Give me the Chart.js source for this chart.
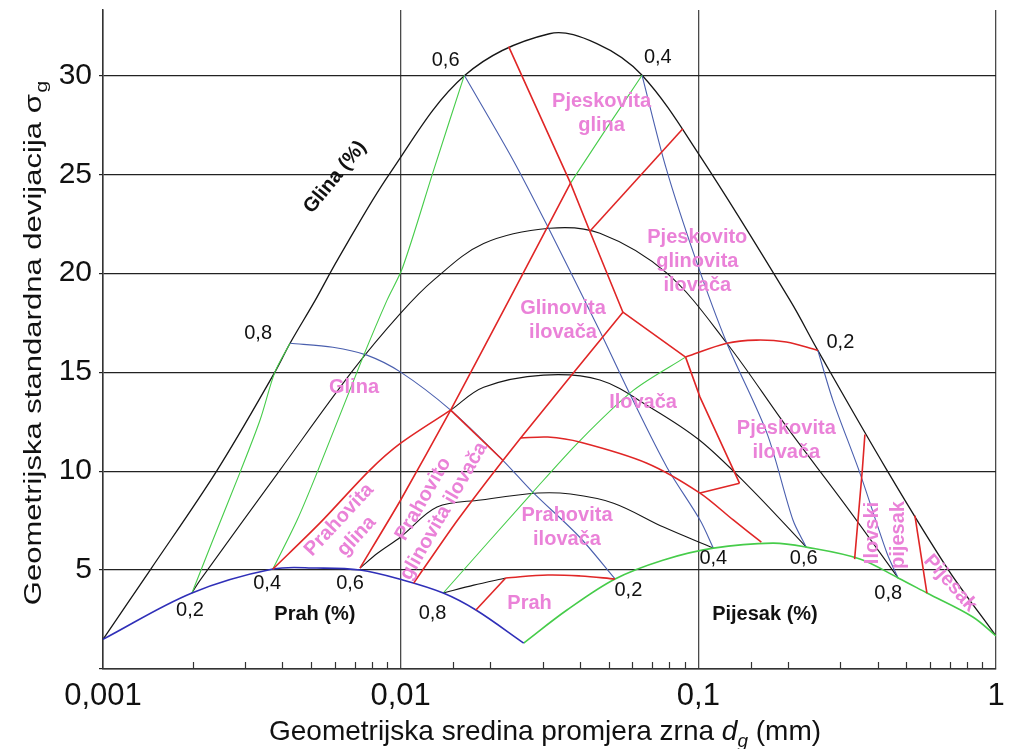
<!DOCTYPE html>
<html>
<head>
<meta charset="utf-8">
<script src="https://cdn.jsdelivr.net/npm/chart.js@4.4.1/dist/chart.umd.min.js"></script>
<style>
  html, body { margin: 0; padding: 0; background: #fff; }
  #wrap { width: 1017px; height: 749px; }
</style>
</head>
<body>
<div id="wrap"><canvas id="tekstura" width="1017" height="749"></canvas></div>
<script>
  "use strict";

  var FONT = "'Liberation Sans', Arial, sans-serif";

  // rubovi trokuta (d_g u mm, sigma_g)
  var outerEdge = [[0.001,1.5],[0.00144,5.0],[0.00242,10.05],[0.00378,15.0],[0.00425,16.46],[0.00515,18.6],[0.00615,20.7],[0.0092,25.05],[0.01644,30],[0.0316,32.1],[0.0456,31.6],[0.0647,30],[0.1015,25.9],[0.2038,18.6],[0.252,16.1],[0.43,10.05],[0.689,5.05],[1,1.67]];
  var siltClayEdge = [[0.001,1.5],[0.00199,3.84],[0.00372,5.05],[0.00523,5.1],[0.0073,5.0],[0.01016,4.5],[0.0139,3.84],[0.0179,2.98],[0.0259,1.31]];
  var siltSandEdge = [[0.0259,1.31],[0.0362,2.98],[0.0525,4.55],[0.076,5.5],[0.1123,6.11],[0.178,6.36],[0.2304,6.16],[0.349,5.56],[0.469,4.6],[0.586,3.84],[0.836,2.63],[1,1.67]];

  // izolinije praha (crno)
  var silt20 = [[0.00199,3.84],[0.00212,4.49],[0.00393,10.05],[0.00692,15.1],[0.01,17.98],[0.0129,19.65],[0.019,21.5],[0.0317,22.27],[0.0467,22.02],[0.0784,20.0],[0.1247,16.46],[0.1984,12.22],[0.3155,8.18],[0.469,4.6]];
  var silt40Low = [[0.00372,5.05],[0.00535,7.37],[0.00788,10.05],[0.01,11.41],[0.01472,13.08]];
  var silt40 = [[0.01472,13.08],[0.019,14.24],[0.0302,14.85],[0.0467,14.6],[0.0688,13.23],[0.1008,11.57],[0.1484,9.19],[0.2304,6.16]];
  var silt60 = [[0.0073,5.1],[0.00838,5.86],[0.01,6.67],[0.01325,8.18],[0.01857,8.54],[0.0289,8.89],[0.0372,8.84],[0.0519,8.38],[0.0764,7.17],[0.1123,6.11]];
  var silt80 = [[0.0139,3.84],[0.0176,4.24],[0.02253,4.6]];
  var silt80High = [[0.02253,4.6],[0.0312,4.75],[0.0402,4.7],[0.0525,4.55]];

  // izolinije pijeska (plavo)
  var sand20 = [[0.00425,16.46],[0.00592,16.26],[0.0077,15.86],[0.01,15.0],[0.01472,13.08],[0.022,10.56],[0.02777,8.94],[0.0399,6.67],[0.0525,4.55]];
  var sand40 = [[0.01636,30],[0.0239,25.7],[0.0314,22.27],[0.0467,17.07],[0.0598,13.69],[0.0784,10.2],[0.1013,7.53],[0.1123,6.11]];
  var sand60 = [[0.0647,30],[0.0778,25.35],[0.0982,20.66],[0.1247,16.46],[0.17,11.92],[0.2079,7.53],[0.2304,6.16]];
  var sand80 = [[0.252,16.1],[0.283,13.59],[0.349,9.9],[0.43,5.86],[0.469,4.6]];

  // izolinije gline (zeleno)
  var clay80 = [[0.00199,3.84],[0.00234,6.52],[0.00288,9.9],[0.00337,12.58],[0.00378,15.0],[0.00425,16.46]];
  var clay60 = [[0.00372,5.05],[0.00449,7.53],[0.00523,9.9],[0.00747,15.76],[0.009,18.64],[0.01016,20.3],[0.0129,25.2],[0.01636,30]];
  var clay40Low = [[0.0073,5.1],[0.01,8.54],[0.01472,13.08],[0.0234,18.79],[0.0372,24.55]];
  var clay40 = [[0.0372,24.55],[0.0494,27.37],[0.0647,30]];
  var clay20 = [[0.0139,3.84],[0.0278,8.94],[0.0402,11.57],[0.0606,14.09],[0.0906,15.76]];
  var clay20High = [[0.0906,15.76],[0.1247,16.46],[0.1566,16.62],[0.1975,16.52],[0.252,16.1]];

  // granice teksturnih razreda (crveno)
  var sand45Line = [[0.02306,31.45],[0.0372,24.55],[0.0432,22.12],[0.0558,18.03]];
  var clay35Line = [[0.0432,22.12],[0.0887,27.3]];
  var silt28Line = [[0.0558,18.03],[0.0906,15.76]];
  var sand52Line = [[0.0906,15.76],[0.1013,13.74],[0.1375,9.39]];
  var clay7Line = [[0.1013,8.89],[0.1375,9.39]];
  var clay27Line = [[0.01106,4.34],[0.01554,7.53],[0.0253,11.67],[0.0558,18.03]];
  var silt50Line = [[0.0253,11.67],[0.0312,11.72],[0.0402,11.46],[0.0672,10.4],[0.1013,8.89],[0.131,7.53],[0.1628,6.41]];
  var sand20Line = [[0.01472,13.08],[0.022,10.56]];
  var clay12Line = [[0.0179,2.98],[0.02253,4.6]];
  var loamySandLine = [[0.3627,11.85],[0.3555,10.05],[0.335,5.55]];
  var sandLine = [[0.534,7.75],[0.586,3.84]];

  var xTickNames = { "-3": "0,001", "-2": "0,01", "-1": "0,1", "0": "1" };

  var regionLabels = [
    { lines: ["Pjeskovita", "glina"], at: [0.0473, 28.08], rot: 0 },
    { lines: ["Pjeskovito", "glinovita", "ilovača"], at: [0.0992, 20.6], rot: 0 },
    { lines: ["Glinovita", "ilovača"], at: [0.0351, 17.63], rot: 0 },
    { lines: ["Glina"], at: [0.00697, 14.24], rot: 0 },
    { lines: ["Ilovača"], at: [0.0652, 13.48], rot: 0 },
    { lines: ["Pjeskovita", "ilovača"], at: [0.1975, 11.57], rot: 0 },
    { lines: ["Prahovita", "glina"], at: [0.00665, 7.12], rot: -47 },
    { lines: ["Prahovito", "glinovita ilovača"], at: [0.0129, 8.28], rot: -60 },
    { lines: ["Prahovita", "ilovača"], at: [0.0362, 7.17], rot: 0 },
    { lines: ["Prah"], at: [0.0271, 3.33], rot: 0 },
    { lines: ["Ilovski"], at: [0.384, 6.87], rot: -90 },
    { lines: ["pijesak"], at: [0.47, 6.77], rot: -90 },
    { lines: ["Pijesak"], at: [0.702, 4.34], rot: 48 }
  ];

  var fractionLabels = [
    ["0,6", 0.01416, 30.76], ["0,4", 0.0731, 30.9], ["0,8", 0.00332, 16.97], ["0,2", 0.3, 16.5],
    ["0,2", 0.00196, 2.98], ["0,4", 0.00356, 4.34], ["0,6", 0.00676, 4.34], ["0,8", 0.0128, 2.83],
    ["0,2", 0.0582, 3.99], ["0,4", 0.1123, 5.6], ["0,6", 0.226, 5.6], ["0,8", 0.4345, 3.84]
  ];

  var fractionNames = [
    { text: "Glina (%)", at: [0.00602, 24.85], rot: -51 },
    { text: "Prah (%)", at: [0.00515, 2.78], rot: 0 },
    { text: "Pijesak (%)", at: [0.1674, 2.78], rot: 0 }
  ];

  var BLACK = "#161616", BLUE = "#4a5fae", EDGE_BLUE = "#2f2fb8", GREEN = "#46cc4a", RED = "#e02626", PINK = "#ea82d8";

  var isDecade = function(v) {
    var e = Math.log10(v);
    return Math.abs(e - Math.round(e)) < 1e-6;
  };

  var line = function(points, color, width, tension, order) {
    return {
      data: points.map(function(p) { return { x: p[0], y: p[1] }; }),
      showLine: true,
      borderColor: color,
      borderWidth: width,
      tension: tension,
      pointRadius: 0,
      pointHoverRadius: 0,
      fill: false,
      order: order
    };
  };

  var datasets = [
    line(outerEdge, BLACK, 1.3, 0.35, 4),
    line(silt20, BLACK, 1.1, 0.35, 4),
    line(silt40, BLACK, 1.1, 0.35, 4),
    line(silt60, BLACK, 1.1, 0.35, 4),
    line(silt80, BLACK, 1.1, 0.3, 4),
    line(sand20, BLUE, 1.1, 0.3, 3),
    line(sand40, BLUE, 1.1, 0.3, 3),
    line(sand60, BLUE, 1.1, 0.3, 3),
    line(sand80, BLUE, 1.1, 0.3, 3),
    line(clay80, GREEN, 1.1, 0.3, 2),
    line(clay60, GREEN, 1.1, 0.3, 2),
    line(clay40, GREEN, 1.1, 0, 2),
    line(clay20, GREEN, 1.1, 0.3, 2),
    line(siltClayEdge, EDGE_BLUE, 1.6, 0.35, 1),
    line(siltSandEdge, GREEN, 1.6, 0.35, 1),
    line(silt40Low, RED, 1.6, 0.3, 0),
    line(clay40Low, RED, 1.6, 0.2, 0),
    line(clay20High, RED, 1.6, 0.35, 0),
    line(silt80High, RED, 1.6, 0.35, 0),
    line(sand45Line, RED, 1.6, 0, 0),
    line(clay35Line, RED, 1.6, 0, 0),
    line(silt28Line, RED, 1.6, 0, 0),
    line(sand52Line, RED, 1.6, 0, 0),
    line(clay7Line, RED, 1.6, 0, 0),
    line(clay27Line, RED, 1.6, 0.2, 0),
    line(silt50Line, RED, 1.6, 0.3, 0),
    line(sand20Line, RED, 1.6, 0, 0),
    line(clay12Line, RED, 1.6, 0, 0),
    line(loamySandLine, RED, 1.6, 0, 0),
    line(sandLine, RED, 1.6, 0, 0)
  ];

  // tekst u dijagramu, male oznake i naslovi osi
  var decor = {
    id: "decor",
    afterDraw: function(chart) {
      var ctx = chart.ctx, a = chart.chartArea, x = chart.scales.x, y = chart.scales.y;

      ctx.save();
      ctx.strokeStyle = "#333";
      ctx.lineWidth = 1.2;
      x.ticks.forEach(function(t) {
        if (isDecade(t.value)) return;
        var px = Math.round(x.getPixelForValue(t.value)) + 0.5;
        ctx.beginPath();
        ctx.moveTo(px, a.bottom);
        ctx.lineTo(px, a.bottom - 7);
        ctx.stroke();
      });
      ctx.restore();

      var drawBlock = function(lines, at, rot, font, color, lh) {
        ctx.save();
        ctx.translate(x.getPixelForValue(at[0]), y.getPixelForValue(at[1]));
        ctx.rotate(rot * Math.PI / 180);
        ctx.font = font;
        ctx.fillStyle = color;
        ctx.textAlign = "center";
        ctx.textBaseline = "middle";
        var top = -(lines.length - 1) * lh / 2;
        lines.forEach(function(s, i) { ctx.fillText(s, 0, top + i * lh); });
        ctx.restore();
      };

      regionLabels.forEach(function(l) {
        drawBlock(l.lines, l.at, l.rot, "bold 20px " + FONT, PINK, 24);
      });
      fractionLabels.forEach(function(l) {
        drawBlock([l[0]], [l[1], l[2]], 0, "20px " + FONT, "#111", 20);
      });
      fractionNames.forEach(function(l) {
        drawBlock([l.text], l.at, l.rot, "bold 20px " + FONT, "#111", 20);
      });

      // naslov osi y
      ctx.save();
      ctx.fillStyle = "#111";
      ctx.translate(41, 343);
      ctx.rotate(-Math.PI / 2);
      ctx.scale(1.35, 1);
      ctx.font = "23px " + FONT;
      var yMain = "Geometrijska standardna devijacija σ";
      var w1 = ctx.measureText(yMain).width;
      ctx.font = "16px " + FONT;
      var w2 = ctx.measureText("g").width;
      var sx = -(w1 + w2 + 1) / 2;
      ctx.font = "23px " + FONT;
      ctx.fillText(yMain, sx, 0);
      ctx.font = "16px " + FONT;
      ctx.fillText("g", sx + w1 + 1, 6);
      ctx.restore();

      // naslov osi x
      ctx.save();
      ctx.fillStyle = "#111";
      var parts = [
        ["Geometrijska sredina promjera zrna ", "28px " + FONT, 0],
        ["d", "italic 28px " + FONT, 0],
        ["g", "italic 19px " + FONT, 7],
        [" (mm)", "28px " + FONT, 0]
      ];
      var total = 0;
      parts.forEach(function(p) { ctx.font = p[1]; total += ctx.measureText(p[0]).width; });
      var cx = 545 - total / 2;
      parts.forEach(function(p) {
        ctx.font = p[1];
        ctx.fillText(p[0], cx, 740 + p[2]);
        cx += ctx.measureText(p[0]).width;
      });
      ctx.restore();
    }
  };

  new Chart(document.getElementById("tekstura"), {
    type: "scatter",
    data: { datasets: datasets },
    options: {
      responsive: false,
      animation: false,
      events: [],
      layout: { padding: { top: 10, right: 21, left: 0, bottom: 0 } },
      plugins: {
        legend: { display: false },
        tooltip: { enabled: false },
        title: { display: false }
      },
      scales: {
        x: {
          type: "logarithmic",
          min: 0.001,
          max: 1,
          afterFit: function(s) { s.height = 80; s.paddingLeft = 0; s.paddingRight = 0; },
          border: { color: "#333", width: 1.5 },
          grid: {
            drawTicks: false,
            lineWidth: 1.3,
            color: function(c) { return c.tick && isDecade(c.tick.value) ? "#4a4a4a" : "rgba(0,0,0,0)"; }
          },
          ticks: {
            autoSkip: false,
            maxRotation: 0,
            padding: 9,
            color: "#111",
            font: { family: FONT, size: 31 },
            callback: function(v) {
              return isDecade(v) ? xTickNames[String(Math.round(Math.log10(v)))] : "";
            }
          }
        },
        y: {
          min: 0,
          max: 33.3,
          afterFit: function(s) { s.width = 103; s.paddingTop = 0; s.paddingBottom = 0; },
          border: { color: "#333", width: 1.5 },
          grid: { color: "#222", lineWidth: 1.2, tickLength: 4 },
          ticks: {
            stepSize: 5,
            includeBounds: false,
            padding: 7,
            color: "#111",
            font: { family: FONT, size: 30 },
            callback: function(v) { return v === 0 ? "" : v; }
          }
        }
      }
    },
    plugins: [decor]
  });
</script>
</body>
</html>
